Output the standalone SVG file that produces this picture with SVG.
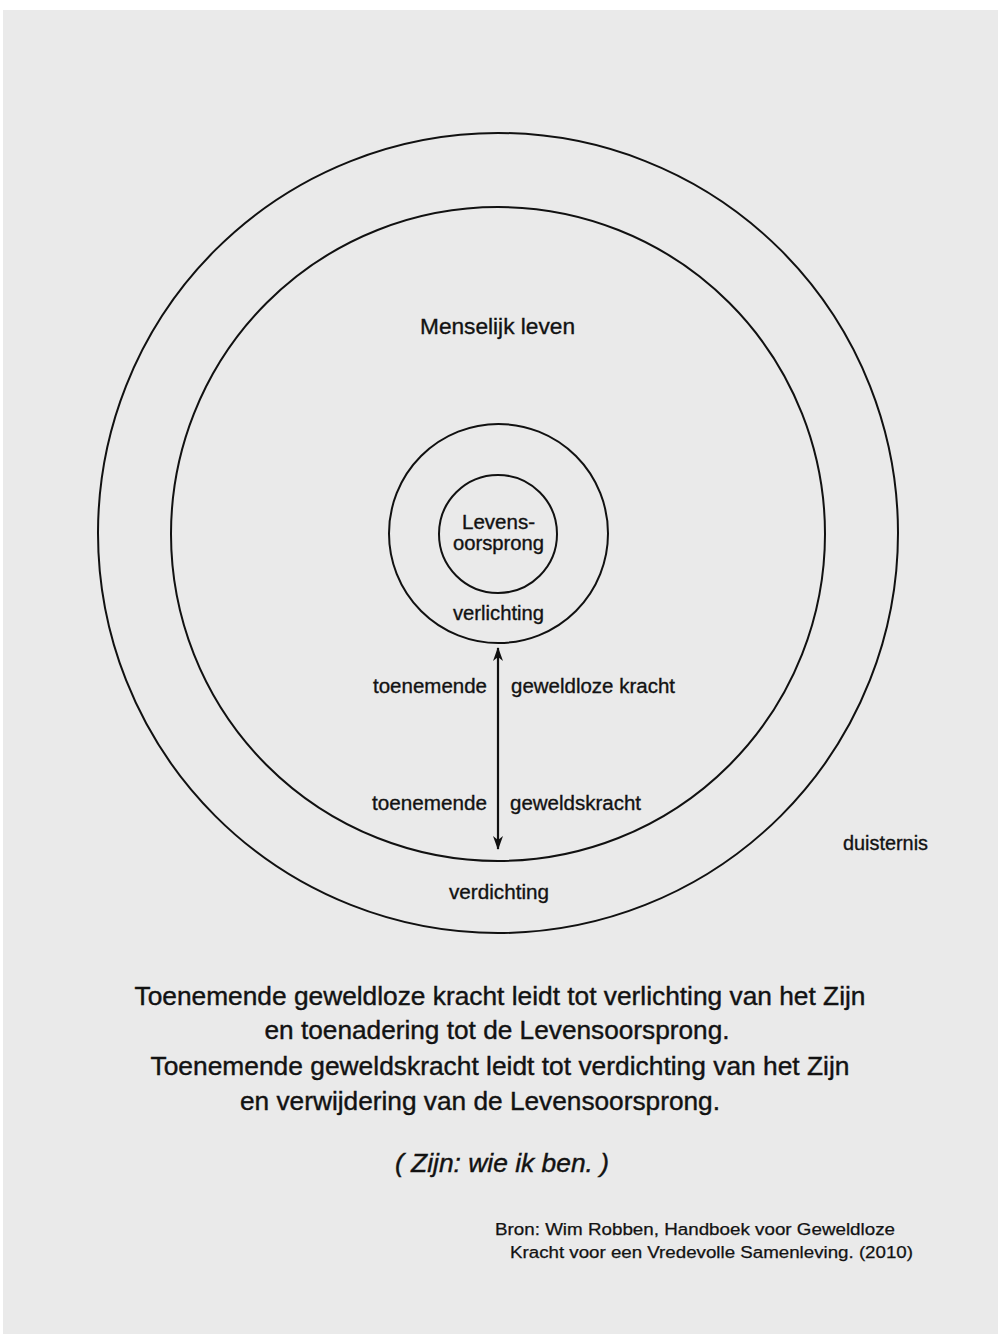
<svg xmlns="http://www.w3.org/2000/svg" width="998" height="1334" viewBox="0 0 998 1334">
<defs>
<style>
.ring{fill:none;stroke:#111;stroke-width:2}
.t{font-family:"Liberation Sans",Arial,sans-serif;fill:#121212;stroke:#121212;stroke-width:0.35}
.lbl{font-size:20.5px}
.main{font-size:26px;text-anchor:middle;stroke-width:0.4}
.src{font-size:16px;stroke-width:0.25}
</style>
<marker id="ah" viewBox="0 0 14 10" refX="13" refY="5" markerWidth="14" markerHeight="10" markerUnits="userSpaceOnUse" orient="auto-start-reverse">
<path d="M0,0 L14,5 L0,10 L4,5 Z" fill="#111"/>
</marker>
</defs>
<rect x="0" y="0" width="998" height="1334" fill="#ffffff"/>
<rect x="3" y="10" width="995" height="1324" fill="#eaeaea"/>

<g id="duisternis-ring">
<circle class="ring" cx="498" cy="533" r="400"/>
<text class="t lbl" x="843" y="850" textLength="85" lengthAdjust="spacingAndGlyphs">duisternis</text>
</g>
<g id="menselijk-leven">
<circle class="ring" cx="498" cy="534" r="327"/>
<text class="t" x="420" y="334" font-size="22" textLength="155" lengthAdjust="spacingAndGlyphs">Menselijk leven</text>
<text class="t lbl" x="449" y="899" textLength="100" lengthAdjust="spacingAndGlyphs">verdichting</text>
</g>
<g id="verlichting">
<circle class="ring" cx="498.5" cy="533.5" r="109.5"/>
<text class="t lbl" x="453" y="620" textLength="91" lengthAdjust="spacingAndGlyphs">verlichting</text>
</g>
<g id="levensoorsprong">
<circle class="ring" cx="498" cy="534" r="59"/>
<text class="t" x="462" y="529" font-size="19.5" textLength="73" lengthAdjust="spacingAndGlyphs">Levens-</text>
<text class="t" x="453" y="550" font-size="19.5" textLength="91" lengthAdjust="spacingAndGlyphs">oorsprong</text>
</g>

<g id="connectors">
<line x1="498" y1="648" x2="498" y2="849" stroke="#111" stroke-width="2.2" marker-start="url(#ah)" marker-end="url(#ah)"/>
</g>

<g id="arrow-labels">
<text class="t lbl" x="373" y="693" textLength="114" lengthAdjust="spacingAndGlyphs">toenemende</text>
<text class="t lbl" x="511" y="693" textLength="164" lengthAdjust="spacingAndGlyphs">geweldloze kracht</text>
<text class="t lbl" x="372" y="810" textLength="115" lengthAdjust="spacingAndGlyphs">toenemende</text>
<text class="t lbl" x="510" y="810" textLength="131" lengthAdjust="spacingAndGlyphs">geweldskracht</text>
</g>

<g id="caption">
<text class="t main" x="500" y="1005" textLength="731" lengthAdjust="spacingAndGlyphs">Toenemende geweldloze kracht leidt tot verlichting van het Zijn</text>
<text class="t main" x="497" y="1039" textLength="465" lengthAdjust="spacingAndGlyphs">en toenadering tot de Levensoorsprong.</text>
<text class="t main" x="500" y="1075" textLength="699" lengthAdjust="spacingAndGlyphs">Toenemende geweldskracht leidt tot verdichting van het Zijn</text>
<text class="t main" x="480" y="1110" textLength="480" lengthAdjust="spacingAndGlyphs">en verwijdering van de Levensoorsprong.</text>
<text class="t main" x="502" y="1172" font-style="italic" textLength="214" lengthAdjust="spacingAndGlyphs">( Zijn: wie ik ben. )</text>
</g>

<g id="source">
<text class="t src" x="495" y="1235" textLength="400" lengthAdjust="spacingAndGlyphs">Bron: Wim Robben, Handboek voor Geweldloze</text>
<text class="t src" x="510" y="1258" textLength="403" lengthAdjust="spacingAndGlyphs">Kracht voor een Vredevolle Samenleving. (2010)</text>
</g>
</svg>
